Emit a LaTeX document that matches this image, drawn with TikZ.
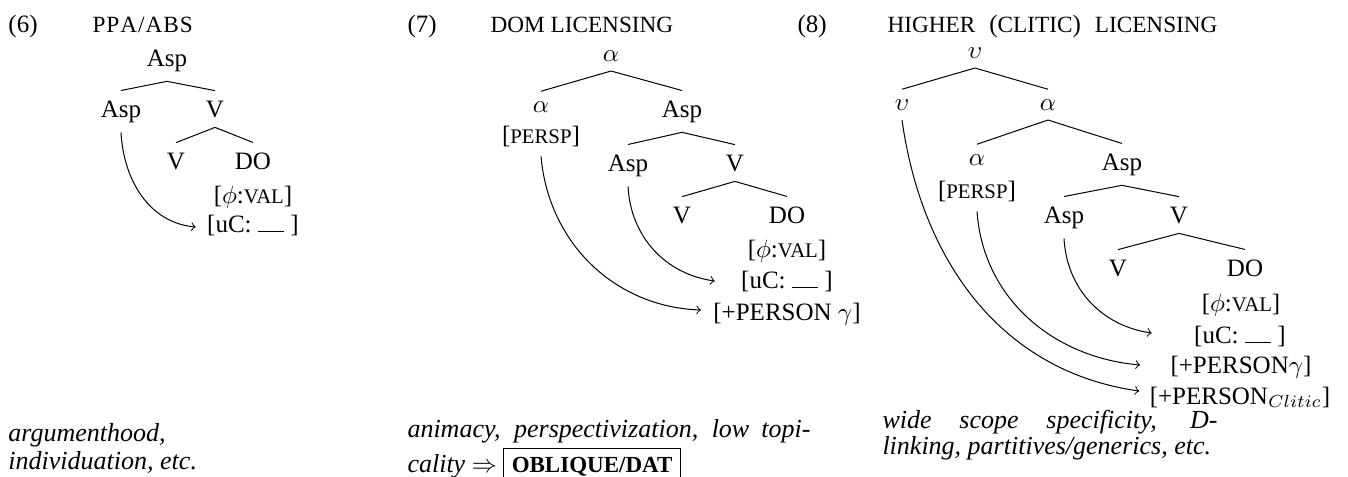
\documentclass[tikz,border=0pt]{standalone}
\usepackage{fontspec}
\setmainfont{Liberation Serif}
\usetikzlibrary{calc}
\newcommand{\fsc}[1]{{\fontsize{8.3pt}{10pt}\selectfont #1}}
\newcommand{\hsc}[1]{{\fontsize{9.3pt}{11pt}\selectfont #1}}
\newcommand{\blank}{\rule{10.5pt}{0.4pt}}
\newcommand{\btxt}{\fontsize{10.4pt}{12pt}\selectfont\itshape}
\begin{document}
\begin{tikzpicture}[x=0.4pt,y=-0.4pt,
  lbl/.style={anchor=base, inner xsep=2pt, inner ysep=3.8pt},
  feat/.style={anchor=base, inner sep=0pt},
  txt/.style={anchor=base west, inner sep=0pt},
  arr/.style={->, line width=0.4pt}]
\useasboundingbox (0,0) rectangle (1348,476);

% ---------- (6) ----------
\node[txt] (n6) at (8,32) {(6)};
\node[txt] (h6) at (92,32) {\hsc{P\kern0.4ptP\kern0.4ptA\kern0.4pt/\kern0.4ptA\kern0.4ptB\kern0.4ptS}};
\node[lbl] (t6r) at (167,66) {Asp};
\node[lbl] (t6a) at (121,117) {Asp};
\node[lbl] (t6v) at (215,117) {V};
\node[lbl] (t6vv) at (176,169) {V};
\node[lbl] (t6do) at (253,169) {DO};
\node[feat] (t6phi) at (253,203) {[$\phi$:\fsc{VAL}]};
\node[feat] (t6uc) at (253,232) {[uC: \blank\ ]};
\draw (t6r.south) -- (t6a.north);
\draw (t6r.south) -- (t6v.north);
\draw (t6v.south) -- (t6vv.north);
\draw (t6v.south) -- (t6do.north);
\draw[arr] (t6a.south) to[out=-87,in=175] ($(t6uc.base west)+(-11,-5)$);
\node[txt] (b6a) at (8,441) {\btxt argumenthood,};
\node[txt] (b6b) at (8,469) {\btxt individuation, etc.};

% ---------- (7) ----------
\node[txt] (n7) at (407,32) {(7)};
\node[txt] (h7) at (490,32) {\hsc{DOM LICENSING}};
\node[lbl] (t7r) at (611,61) {$\alpha$};
\node[lbl] (t7al) at (541,112) {$\alpha$};
\node[lbl] (t7p) at (541,143) {[\fsc{PERSP}]};
\node[lbl] (t7asp) at (682,117) {Asp};
\node[lbl] (t7a2) at (628,171) {Asp};
\node[lbl] (t7v) at (735,171) {V};
\node[lbl] (t7vv) at (682,223) {V};
\node[lbl] (t7do) at (787,223) {DO};
\node[feat] (t7phi) at (787,257) {[$\phi$:\fsc{VAL}]};
\node[feat] (t7uc) at (787,288) {[uC: \blank\ ]};
\node[feat] (t7pg) at (787,320) {[+PERSON $\gamma$]};
\draw (t7r.south) -- (t7al.north);
\draw (t7r.south) -- (t7asp.north);
\draw (t7asp.south) -- (t7a2.north);
\draw (t7asp.south) -- (t7v.north);
\draw (t7v.south) -- (t7vv.north);
\draw (t7v.south) -- (t7do.north);
\draw[arr] (t7p.south) to[out=-85,in=178] ($(t7pg.base west)+(-12,-10)$);
\draw[arr] (t7a2.south) to[out=-87,in=172] ($(t7uc.base west)+(-26,-7)$);
\node[txt] (b7a) at (407,437) {\makebox[161.2pt][s]{\btxt animacy, perspectivization, low topi-}};
\node[txt] (b7b) at (407,472) {\btxt cality \upshape$\Rightarrow$ \fbox{\bfseries\fontsize{9.2pt}{11pt}\selectfont OBLIQUE/DAT}};

% ---------- (8) ----------
\node[txt] (n8) at (797,32) {(8)};
\node[txt] (h8) at (887,32) {\makebox[132pt][s]{\hsc{HIGHER} (\hsc{CLITIC}) \hsc{LICENSING}}};
\node[lbl] (t8r) at (975,58) {$\upsilon$};
\node[lbl] (t8u) at (902,110) {$\upsilon$};
\node[lbl] (t8a) at (1048,110) {$\alpha$};
\node[lbl] (t8al) at (977,165) {$\alpha$};
\node[lbl] (t8p) at (977,198) {[\fsc{PERSP}]};
\node[lbl] (t8asp) at (1122,170) {Asp};
\node[lbl] (t8a2) at (1064,223) {Asp};
\node[lbl] (t8v) at (1179,223) {V};
\node[lbl] (t8vv) at (1118,276) {V};
\node[lbl] (t8do) at (1245,276) {DO};
\node[feat] (t8phi) at (1241,311) {[$\phi$:\fsc{VAL}]};
\node[feat] (t8uc) at (1240,343) {[uC: \blank\ ]};
\node[feat] (t8pg) at (1241,373) {[+PERSON$\gamma$]};
\node[feat] (t8pc) at (1240,404) {[+PERSON$_{Clitic}$]};
\draw (t8r.south) -- (t8u.north);
\draw (t8r.south) -- (t8a.north);
\draw (t8a.south) -- (t8al.north);
\draw (t8a.south) -- (t8asp.north);
\draw (t8asp.south) -- (t8a2.north);
\draw (t8asp.south) -- (t8v.north);
\draw (t8v.south) -- (t8vv.north);
\draw (t8v.south) -- (t8do.north);
\draw[arr] (t8u.south) to[out=-82,in=172] ($(t8pc.base west)+(-10,-13)$);
\draw[arr] (t8p.south) to[out=-86,in=175] ($(t8pg.base west)+(-30,-8)$);
\draw[arr] (t8a2.south) to[out=-87,in=172] ($(t8uc.base west)+(-42,-10)$);
\node[txt] (b8a) at (882,428) {\makebox[134pt][s]{\btxt wide scope specificity, D-}};
\node[txt] (b8b) at (882,454) {\btxt linking, partitives/generics, etc.};
\end{tikzpicture}
\end{document}
